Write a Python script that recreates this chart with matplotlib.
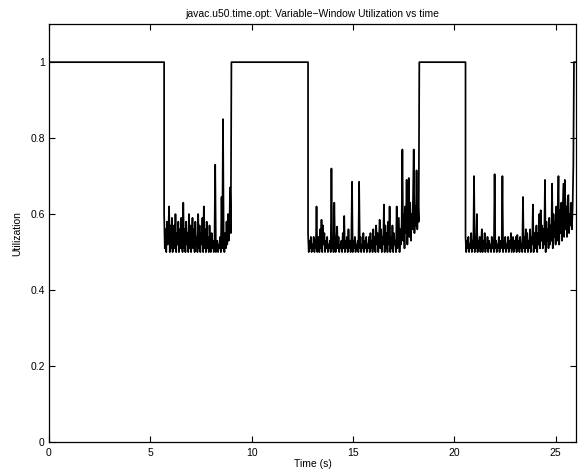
import numpy as np
import matplotlib.pyplot as plt

# time windows where utilization sits at 1.0
high_windows = [(0.0, 5.68), (9.0, 12.78), (18.27, 20.55), (25.9, 26.0)]

# noisy stretches: (start, end) times and values
seg1_span = (5.68, 8.97)
seg1_vals = [
    0.60, 0.51, 0.56, 0.50, 0.58, 0.52, 0.55, 0.62, 0.50, 0.57,
    0.51, 0.59, 0.50, 0.54, 0.57, 0.51, 0.60, 0.50, 0.55, 0.52,
    0.58, 0.50, 0.56, 0.51, 0.59, 0.52, 0.50, 0.63, 0.51, 0.56,
    0.50, 0.58, 0.52, 0.55, 0.50, 0.60, 0.51, 0.57, 0.50, 0.54,
    0.59, 0.51, 0.56, 0.50, 0.58, 0.52, 0.54, 0.50, 0.60, 0.51,
    0.57, 0.50, 0.55, 0.52, 0.59, 0.50, 0.62, 0.51, 0.56, 0.50,
    0.58, 0.51, 0.54, 0.50, 0.57, 0.52, 0.50, 0.55, 0.51, 0.53,
    0.50, 0.52, 0.73, 0.50, 0.51, 0.53, 0.50, 0.52, 0.51, 0.54,
    0.50, 0.645, 0.51, 0.85, 0.52, 0.50, 0.55, 0.51, 0.58, 0.52,
    0.60, 0.53, 0.56, 0.67, 0.55,
]

seg2_span = (12.78, 18.24)
seg2_vals = [
    0.55, 0.50, 0.53, 0.51, 0.54, 0.50, 0.52, 0.51, 0.54, 0.50,
    0.53, 0.51, 0.62, 0.50, 0.52, 0.54, 0.50, 0.56, 0.51, 0.585,
    0.50, 0.57, 0.52, 0.55, 0.50, 0.53, 0.51, 0.54, 0.50, 0.52,
    0.51, 0.53, 0.50, 0.72, 0.51, 0.54, 0.50, 0.63, 0.52, 0.50,
    0.53, 0.567, 0.51, 0.54, 0.50, 0.52, 0.51, 0.53, 0.50, 0.55,
    0.51, 0.595, 0.50, 0.53, 0.51, 0.54, 0.50, 0.56, 0.51, 0.53,
    0.50, 0.52, 0.685, 0.50, 0.53, 0.51, 0.54, 0.50, 0.52, 0.51,
    0.53, 0.50, 0.685, 0.51, 0.54, 0.50, 0.52, 0.51, 0.55, 0.50,
    0.53, 0.51, 0.54, 0.50, 0.52, 0.51, 0.54, 0.50, 0.55, 0.51,
    0.53, 0.50, 0.56, 0.51, 0.54, 0.50, 0.57, 0.52, 0.55, 0.50,
    0.53, 0.585, 0.51, 0.56, 0.50, 0.54, 0.52, 0.625, 0.50, 0.57,
    0.51, 0.55, 0.50, 0.58, 0.52, 0.62, 0.50, 0.54, 0.51, 0.57,
    0.50, 0.55, 0.52, 0.53, 0.50, 0.62, 0.51, 0.55, 0.59, 0.50,
    0.56, 0.52, 0.58, 0.77, 0.53, 0.60, 0.51, 0.62, 0.55, 0.69,
    0.52, 0.60, 0.695, 0.54, 0.63, 0.53, 0.60, 0.56, 0.64, 0.77,
    0.55, 0.62, 0.57, 0.715, 0.56, 0.63, 0.58,
]

seg3_span = (20.55, 25.87)
seg3_vals = [
    0.54, 0.50, 0.53, 0.51, 0.54, 0.50, 0.52, 0.51, 0.55, 0.50,
    0.53, 0.51, 0.70, 0.50, 0.54, 0.51, 0.60, 0.50, 0.53, 0.51,
    0.54, 0.50, 0.52, 0.56, 0.50, 0.53, 0.51, 0.55, 0.50, 0.52,
    0.51, 0.54, 0.50, 0.53, 0.51, 0.52, 0.50, 0.54, 0.51, 0.53,
    0.50, 0.705, 0.51, 0.53, 0.50, 0.52, 0.51, 0.54, 0.50, 0.53,
    0.51, 0.52, 0.70, 0.50, 0.53, 0.51, 0.54, 0.50, 0.52, 0.51,
    0.54, 0.50, 0.53, 0.51, 0.55, 0.50, 0.52, 0.54, 0.50, 0.53,
    0.51, 0.54, 0.50, 0.545, 0.51, 0.53, 0.50, 0.54, 0.51, 0.52,
    0.50, 0.645, 0.51, 0.54, 0.50, 0.56, 0.51, 0.55, 0.50, 0.53,
    0.51, 0.56, 0.50, 0.54, 0.52, 0.625, 0.50, 0.55, 0.51, 0.53,
    0.57, 0.50, 0.55, 0.52, 0.60, 0.51, 0.61, 0.53, 0.57, 0.51,
    0.56, 0.52, 0.69, 0.50, 0.58, 0.53, 0.56, 0.51, 0.59, 0.52,
    0.57, 0.53, 0.68, 0.51, 0.60, 0.54, 0.58, 0.52, 0.62, 0.53,
    0.59, 0.70, 0.52, 0.61, 0.55, 0.63, 0.53, 0.60, 0.68, 0.54,
    0.69, 0.56, 0.62, 0.54, 0.64, 0.65, 0.55, 0.60, 0.57, 0.63,
    0.56, 0.62, 0.73,
]

x_ticks = [0, 5, 10, 15, 20, 25]
y_ticks = [0, 0.2, 0.4, 0.6, 0.8, 1.0]
y_tick_labels = ['0', '0.2', '0.4', '0.6', '0.8', '1']


def build_series():
    noisy = [(seg1_span, seg1_vals), (seg2_span, seg2_vals), (seg3_span, seg3_vals)]
    xs, ys = [], []
    for k, (a, b) in enumerate(high_windows):
        xs += [a, b]
        ys += [1.0, 1.0]
        if k < len(noisy):
            (s, e), vals = noisy[k]
            xs += list(np.linspace(s, e, len(vals)))
            ys += vals
    return np.array(xs), np.array(ys)


plt.rcParams['font.family'] = ['Liberation Sans', 'DejaVu Sans']
fig = plt.figure(figsize=(5.79, 4.74), dpi=100)
ax = fig.add_axes([0.0846, 0.0675, 0.9102, 0.8815])

X, Y = build_series()
ax.plot(X, Y, color='black', linewidth=1.25)

ax.set_xlim(0, 26)
ax.set_ylim(0, 1.1)
ax.set_xticks(x_ticks)
ax.set_yticks(y_ticks)
ax.set_yticklabels(y_tick_labels)
ax.tick_params(direction='in', top=True, right=True, labelsize=7.5, length=4, width=0.8, pad=3)
ax.tick_params(axis='x', pad=4)
for sp in ax.spines.values():
    sp.set_linewidth(0.9)

ax.set_title('javac.u50.time.opt: Variable\u2212Window Utilization vs time', fontsize=7.5, pad=5)
ax.set_xlabel('Time (s)', fontsize=7.5, labelpad=1)
ax.set_ylabel('Utilization', fontsize=7.5, labelpad=6)

fig.savefig('out.png', dpi=100)
